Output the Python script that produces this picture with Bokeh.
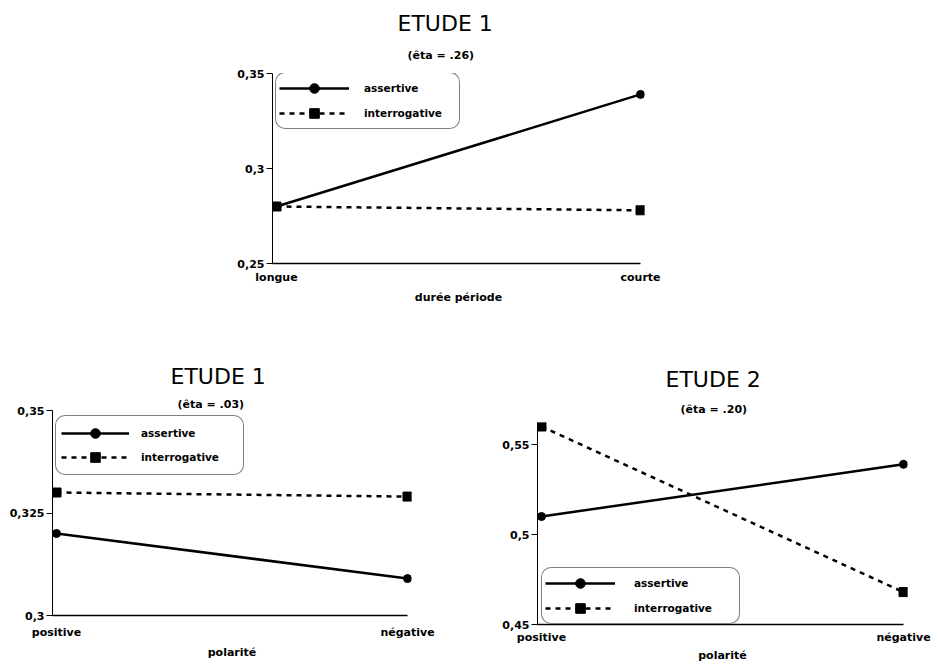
from bokeh.plotting import figure
from bokeh.models import Range1d, FixedTicker, Legend, LegendItem, Title
from bokeh.layouts import column, row
from bokeh.embed import file_html
from bokeh.resources import INLINE

# ---------------- data ----------------
duree_categories = ["longue", "courte"]
duree_assertive = [0.28, 0.339]
duree_interrogative = [0.28, 0.278]
duree_yticks = [0.25, 0.3, 0.35]
duree_ylabels = ["0,25", "0,3", "0,35"]

pol1_categories = ["positive", "négative"]
pol1_assertive = [0.32, 0.309]
pol1_interrogative = [0.33, 0.329]
pol1_yticks = [0.3, 0.325, 0.35]
pol1_ylabels = ["0,3", "0,325", "0,35"]

pol2_categories = ["positive", "négative"]
pol2_assertive = [0.51, 0.539]
pol2_interrogative = [0.56, 0.468]
pol2_yticks = [0.45, 0.5, 0.55]
pol2_ylabels = ["0,45", "0,5", "0,55"]

series_names = ["assertive", "interrogative"]

FONT = "DejaVu Sans"
INK = "#000000"


def make_chart(categories, assertive, interrogative, yticks, ylabels,
               title, subtitle, xlabel, geo):
    xs = list(range(len(categories)))
    pad = geo["pad"]
    p = figure(width=geo["width"], height=geo["height"],
               x_range=Range1d(xs[0] - pad, xs[-1] + pad),
               y_range=Range1d(geo["y0"], geo["y1"]),
               output_backend="svg", toolbar_location=None,
               min_border_left=geo["bl"], min_border_right=geo["br"],
               min_border_top=geo["bt"], min_border_bottom=geo["bb"])
    try:
        p.title = None
    except Exception:
        p.title.text = ""
    if "frame_align" in p.properties():
        p.frame_align = False
    p.outline_line_color = None
    p.xgrid.visible = False
    p.ygrid.visible = False
    p.background_fill_color = "white"
    p.border_fill_color = "white"

    # x axis
    xa = p.xaxis[0]
    xa.ticker = FixedTicker(ticks=xs)
    xa.major_label_overrides = {x: c for x, c in zip(xs, categories)}
    xa.major_tick_out = 0
    xa.major_tick_in = 0
    xa.minor_tick_out = 0
    xa.minor_tick_in = 0
    xa.axis_line_color = INK
    xa.axis_line_width = 1.5
    xa.bounds = (xs[0] - pad, xs[-1])
    xa.major_label_standoff = geo["xstand"]
    xa.axis_label = xlabel
    xa.axis_label_standoff = geo["xlstand"]
    xa.axis_label_text_font = FONT
    xa.axis_label_text_font_style = "bold"
    xa.axis_label_text_font_size = "11px"
    xa.axis_label_text_color = INK
    xa.major_label_text_font = FONT
    xa.major_label_text_font_style = "bold"
    xa.major_label_text_font_size = "11px"
    xa.major_label_text_color = INK

    # y axis
    ya = p.yaxis[0]
    ya.ticker = FixedTicker(ticks=yticks)
    ya.major_label_overrides = {t: l for t, l in zip(yticks, ylabels)}
    ya.major_tick_out = 6
    ya.major_tick_in = 0
    ya.minor_tick_out = 0
    ya.minor_tick_in = 0
    ya.major_tick_line_color = INK
    ya.axis_line_color = INK
    ya.axis_line_width = 1
    ya.major_label_standoff = 2
    ya.major_label_text_font = FONT
    ya.major_label_text_font_style = "bold"
    ya.major_label_text_font_size = "11px"
    ya.major_label_text_color = INK

    la = p.line(xs, assertive, line_color=INK, line_width=2.5)
    sa = p.scatter(xs, assertive, marker="circle", size=8,
                   fill_color=INK, line_color=INK)
    li = p.line(xs, interrogative, line_color=INK, line_width=2.5,
                line_dash="5 5")
    si = p.scatter(xs, interrogative, marker="square", size=9,
                   fill_color=INK, line_color=INK)

    lg = Legend(items=[LegendItem(label=series_names[0], renderers=[la, sa]),
                       LegendItem(label=series_names[1], renderers=[li, si])],
                location=geo["legloc"], margin=0,
                padding=geo["lpad"], spacing=geo["lspace"],
                glyph_width=geo["gw"], glyph_height=24, label_height=24,
                label_width=geo["lw"], label_standoff=geo["lstand"],
                label_text_font=FONT, label_text_font_style="bold",
                label_text_font_size="10.5px", label_text_color=INK,
                border_line_color=INK, border_line_width=1,
                background_fill_color="white", background_fill_alpha=1.0)
    if "border_radius" in Legend.properties():
        lg.border_radius = 10
    p.add_layout(lg, "center")

    # subtitle first (closest to the frame), then main title above it
    p.add_layout(Title(text=subtitle, align="left", offset=geo["soff"],
                       standoff=geo["sstand"], text_font=FONT,
                       text_font_size="11px", text_font_style="bold",
                       text_color=INK), "above")
    p.add_layout(Title(text=title, align="left", offset=geo["toff"],
                       standoff=geo["tstand"], text_font=FONT,
                       text_font_size="22px", text_font_style="normal",
                       text_color=INK), "above")
    return p


geo_top = dict(width=938, height=308, pad=4 / 364, y0=0.25, y1=0.35,
               bl=272, br=294, bt=73, bb=45, xstand=7, xlstand=4,
               legloc=(3, 134), lpad=3, lspace=1, gw=70, lw=92, lstand=15,
               toff=125, tstand=0, soff=135, sstand=23)
geo_left = dict(width=478, height=357, pad=4 / 351, y0=0.3, y1=0.35,
                bl=52, br=67, bt=102, bb=50, xstand=10, xlstand=4,
                legloc=(3, 140), lpad=5, lspace=0, gw=68, lw=97, lstand=12,
                toff=118, tstand=14, soff=125, sstand=0)
geo_right = dict(width=460, height=357, pad=4 / 362, y0=0.45,
                 y1=0.56 + 4 / 1800,
                 bl=59, br=31, bt=114, bb=41, xstand=6, xlstand=2,
                 legloc=(4, 0), lpad=3, lspace=1, gw=70, lw=102, lstand=19,
                 toff=128, tstand=6, soff=143, sstand=13)

p_top = make_chart(duree_categories, duree_assertive, duree_interrogative,
                   duree_yticks, duree_ylabels, "ETUDE 1", "(êta = .26)",
                   "durée période", geo_top)
p_left = make_chart(pol1_categories, pol1_assertive, pol1_interrogative,
                    pol1_yticks, pol1_ylabels, "ETUDE 1", "(êta = .03)",
                    "polarité", geo_left)
p_right = make_chart(pol2_categories, pol2_assertive, pol2_interrogative,
                     pol2_yticks, pol2_ylabels, "ETUDE 2", "(êta = .20)",
                     "polarité", geo_right)

layout = column(p_top, row(p_left, p_right))

html = file_html(layout, INLINE, title="Etudes")
with open("out.html", "w") as f:
    f.write(html)
